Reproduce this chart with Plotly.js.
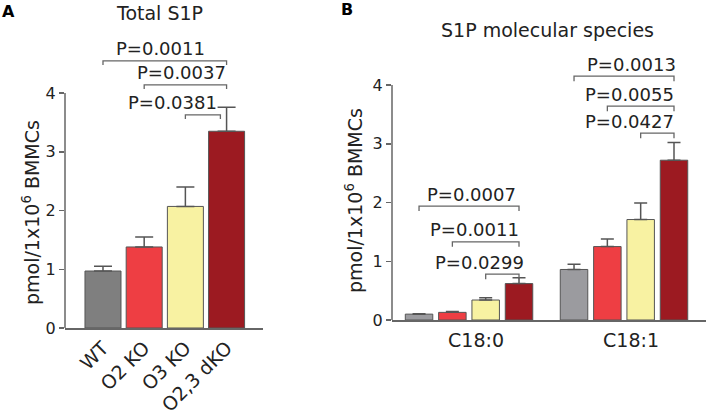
<!DOCTYPE html>
<html>
<head>
<meta charset="utf-8">
<script src="https://cdn.plot.ly/plotly-3.0.1.min.js"></script>
<style>
  html, body { margin: 0; padding: 0; background: #fff; }
  #chart { width: 706px; height: 415px; }
</style>
</head>
<body>
<div id="chart"></div>
<script>
// panel A: total S1P
const genotypes = ["WT", "O2 KO", "O3 KO", "O2,3 dKO"];
const totalMean = [0.97, 1.38, 2.07, 3.35];
const totalErr = [0.08, 0.17, 0.33, 0.41];

// panel B: molecular species
const species = ["C18:0", "C18:1"];
const wtMean = [0.10, 0.86];
const wtErr = [0.005, 0.09];
const o2Mean = [0.13, 1.25];
const o2Err = [0.015, 0.13];
const o3Mean = [0.34, 1.71];
const o3Err = [0.04, 0.28];
const dkoMean = [0.62, 2.72];
const dkoErr = [0.10, 0.30];

// significance brackets (bar index from -> to, height, label)
const pA_from = [0, 1, 2];
const pA_to = [3, 3, 2.85];
const pA_level = [4.55, 4.14, 3.63];
const pA_text = ["P=0.0011", "P=0.0037", "P=0.0381"];

// B: [category, slot from, slot to]
const pB_cat = [1, 1, 1, 0, 0, 0];
const pB_from = [0, 1, 2, 0, 1, 2];
const pB_to = [3, 3, 3, 3, 3, 3];
const pB_level = [4.15, 3.64, 3.18, 1.94, 1.33, 0.78];
const pB_text = ["P=0.0013", "P=0.0055", "P=0.0427", "P=0.0007", "P=0.0011", "P=0.0299"];

const colorsA = ["#7f7f7f", "#ee3e43", "#f8f2a2", "#9c1a21"];
const colorsB = ["#9b9b9f", "#ee3e43", "#f8f2a2", "#9c1a21"];
const font = "DejaVu Sans";
const ink = "#222";
const axisCol = "#666";

// pixel nudges for the P labels (not data)
const shiftA = [-4, -4, -30];
const shiftB = [7, -11, -28, 2, -11, -23];

const W = 706, H = 415;
const px = (x) => x / W;
const py = (y) => (H - y) / H;

const bargap = 0.14;
const slotW = (1 - bargap) / 4;
const slotCenter = (cat, k) => cat - (1 - bargap) / 2 + (k + 0.5) * slotW;

const traceA = {
  type: "bar",
  x: genotypes,
  y: totalMean,
  width: 0.874,
  xaxis: "x",
  yaxis: "y",
  marker: { color: colorsA, line: { color: "#555", width: 1 } },
  error_y: { type: "data", array: totalErr, arrayminus: totalErr.map(() => 0), symmetric: false,
    color: "#555", thickness: 1.5, width: 9 },
  showlegend: false,
  hoverinfo: "skip",
};

const seriesB = [
  { name: "WT", y: wtMean, err: wtErr },
  { name: "O2 KO", y: o2Mean, err: o2Err },
  { name: "O3 KO", y: o3Mean, err: o3Err },
  { name: "O2,3 dKO", y: dkoMean, err: dkoErr },
];

const tracesB = seriesB.map((s, i) => ({
  type: "bar",
  name: s.name,
  x: species,
  y: s.y,
  xaxis: "x2",
  yaxis: "y2",
  marker: { color: colorsB[i], line: { color: "#555", width: 1 } },
  error_y: { type: "data", array: s.err, arrayminus: s.err.map(() => 0), symmetric: false,
    color: "#555", thickness: 1.5, width: 6.5 },
  showlegend: false,
  hoverinfo: "skip",
}));

const bracket = (xa, ya, x0, x1, y, drop) => ({
  type: "path",
  xref: xa, yref: ya,
  path: `M ${x0},${y - drop} L ${x0},${y} L ${x1},${y} L ${x1},${y - drop}`,
  line: { color: axisCol, width: 1.3 },
});

const shapes = [
  // y axis lines, only up to 4
  { type: "line", xref: "x domain", yref: "y", x0: 0, x1: 0, y0: 0, y1: 4, line: { color: axisCol, width: 1.5 } },
  { type: "line", xref: "x2 domain", yref: "y2", x0: 0, x1: 0, y0: 0, y1: 4, line: { color: axisCol, width: 1.5 } },
];
const annotations = [];

pA_text.forEach((t, i) => {
  shapes.push(bracket("x", "y", pA_from[i], pA_to[i], pA_level[i], 0.07));
  annotations.push({
    xref: "x", yref: "y", x: (pA_from[i] + pA_to[i]) / 2, y: pA_level[i],
    text: t, showarrow: false, xshift: shiftA[i], yshift: 12, xanchor: "center", yanchor: "middle",
    font: { family: font, size: 18, color: ink },
  });
});

pB_text.forEach((t, i) => {
  const x0 = slotCenter(pB_cat[i], pB_from[i]);
  const x1 = slotCenter(pB_cat[i], pB_to[i]);
  shapes.push(bracket("x2", "y2", x0, x1, pB_level[i], 0.085));
  annotations.push({
    xref: "x2", yref: "y2", x: (x0 + x1) / 2, y: pB_level[i],
    text: t, showarrow: false, xshift: shiftB[i], yshift: 12, xanchor: "center", yanchor: "middle",
    font: { family: font, size: 18, color: ink },
  });
});

const label = (x, y, text, size, extra) => Object.assign({
  xref: "paper", yref: "paper", x: px(x), y: py(y), text: text, showarrow: false,
  xanchor: "center", yanchor: "middle",
  font: { family: font, size: size, color: ink },
}, extra || {});

const yTitle = "pmol/1x10<sup>6</sup> BMMCs";
annotations.push(
  label(159, 13, "Total S1P", 19),
  label(547, 30, "S1P molecular species", 19),
  label(8, 11, "<b>A</b>", 16, { font: { family: font, size: 16, color: "#000" } }),
  label(347, 10, "<b>B</b>", 16, { font: { family: font, size: 16, color: "#000" } }),
  label(31, 213, yTitle, 19, { textangle: -90 }),
  label(354, 201, yTitle, 19, { textangle: -90 })
);

const yAxisCommon = {
  tickvals: [0, 1, 2, 3, 4],
  ticks: "outside", ticklen: 5, tickwidth: 1.5, tickcolor: axisCol,
  showline: false, showgrid: false, zeroline: false,
  tickfont: { family: font, size: 16, color: ink },
  automargin: false, fixedrange: true,
};

const layout = {
  width: W, height: H,
  margin: { l: 0, r: 0, t: 0, b: 0 },
  paper_bgcolor: "#fff", plot_bgcolor: "rgba(0,0,0,0)",
  barmode: "group",
  bargap: bargap,
  bargroupgap: 0.175,
  xaxis: {
    domain: [px(65), px(263)], anchor: "y",
    type: "category", range: [-0.922, 3.884],
    showline: true, linecolor: axisCol, linewidth: 1.5,
    ticks: "", showgrid: false, zeroline: false,
    tickangle: -45,
    tickfont: { family: font, size: 19, color: ink },
    automargin: false, fixedrange: true,
  },
  yaxis: Object.assign({}, yAxisCommon, {
    domain: [py(328), py(5)], anchor: "x", range: [0, 5.5],
  }),
  xaxis2: {
    domain: [px(392), 1], anchor: "y2",
    type: "category", range: [-0.497, 1.529],
    showline: true, linecolor: axisCol, linewidth: 1.5,
    ticks: "", showgrid: false, zeroline: false,
    ticklabelshift: 7, ticklabelstandoff: 3,
    tickfont: { family: font, size: 19, color: ink },
    automargin: false, fixedrange: true,
  },
  yaxis2: Object.assign({}, yAxisCommon, {
    domain: [py(320), py(50)], anchor: "x2", range: [0, 4.596],
  }),
  shapes: shapes,
  annotations: annotations,
};

Plotly.newPlot("chart", [traceA, ...tracesB], layout, { displayModeBar: false, staticPlot: true });
</script>
</body>
</html>
